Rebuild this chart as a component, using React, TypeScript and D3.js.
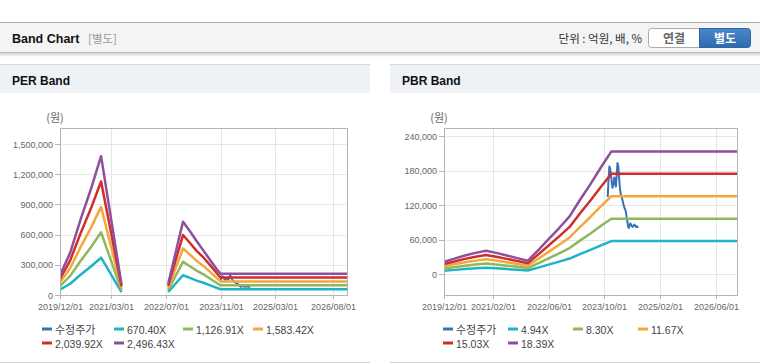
import * as d3 from "d3";
import React from "react";

// 데이터 (값은 그림에서 읽은 추정치)
const PER_DATES = [
  "2019-12-01", "2020-03-01", "2020-06-01", "2020-09-01", "2020-12-01", "2021-06-01",
  "2022-01-01",
  "2022-07-22", "2022-12-01", "2023-02-01", "2023-04-01", "2023-06-01", "2023-08-01",
  "2023-10-01", "2023-11-01", "2026-12-01",
];
const PER_670 = [52000, 112000, 201000, 284000, 371000, 28000, null, 30000, 196000, 170000, 143000, 122000, 96000, 70000, 57000, 57000];
const PER_1126 = [88000, 190000, 338000, 474000, 623000, 47000, null, 51000, 329000, 286000, 242000, 206000, 162000, 117000, 96000, 96000];
const PER_1583 = [124000, 268000, 475000, 667000, 876000, 66000, null, 71000, 462000, 401000, 340000, 289000, 228000, 165000, 135000, 135000];
const PER_2039 = [159000, 345000, 612000, 859000, 1128000, 86000, null, 92000, 596000, 517000, 439000, 373000, 294000, 212000, 173000, 173000];
const PER_2496 = [195000, 422000, 750000, 1051000, 1380000, 105000, null, 112000, 729000, 633000, 537000, 441000, 345000, 250000, 212000, 212000];

const PBR_DATES = [
  "2019-12-01", "2020-03-01", "2020-06-01", "2020-09-01", "2020-12-01", "2021-03-01",
  "2021-06-01", "2021-09-01", "2021-12-01", "2022-03-01", "2022-06-01", "2022-09-01",
  "2022-12-01", "2023-03-01", "2023-06-01", "2023-09-01", "2023-12-01", "2026-12-01",
];
const PBR_494 = [5700, 7200, 8600, 9900, 10900, 9900, 8600, 7400, 6200, 11100, 16300, 21500, 26900, 34600, 42000, 49900, 57300, 57300];
const PBR_830 = [9500, 12000, 14500, 16600, 18300, 16600, 14500, 12500, 10400, 18600, 27400, 36100, 45200, 58100, 70600, 83800, 96300, 96300];
const PBR_1167 = [13400, 16900, 20400, 23300, 25700, 23300, 20400, 17500, 14600, 26200, 38500, 50800, 63600, 81700, 99200, 117900, 135400, 135400];
const PBR_1503 = [17300, 21800, 26300, 30100, 33100, 30100, 26300, 22500, 18800, 33700, 49600, 65400, 81900, 105200, 127800, 151800, 174300, 174300];
const PBR_1839 = [21100, 26700, 32200, 36800, 40500, 36800, 32200, 27600, 23000, 41300, 60700, 80000, 100200, 128700, 156300, 185700, 213300, 213300];

const PRICE_DATES = [
  "2023-10-30", "2023-11-06", "2023-11-13", "2023-11-20", "2023-11-27", "2023-12-04",
  "2023-12-11", "2023-12-18", "2023-12-26", "2024-01-02", "2024-01-09", "2024-01-16",
  "2024-01-23", "2024-01-30", "2024-02-06", "2024-02-13", "2024-02-20", "2024-02-27",
  "2024-03-05", "2024-03-12", "2024-03-19", "2024-03-26", "2024-04-02", "2024-04-09",
  "2024-04-16", "2024-04-23", "2024-04-30", "2024-05-07", "2024-05-14", "2024-05-21",
  "2024-05-28", "2024-06-04", "2024-06-11", "2024-06-18", "2024-06-25", "2024-07-02",
  "2024-07-09", "2024-07-16", "2024-07-23",
];
const PRICE = [
  134000, 165000, 187000, 184000, 172000, 160000, 150000, 155000, 168000, 160000,
  152000, 172000, 193000, 188000, 168000, 150000, 140000, 134000, 130000, 124000,
  118000, 114000, 111000, 103000, 94000, 85000, 80000, 84000, 88000, 86000,
  83000, 82000, 84000, 86000, 84000, 82000, 83000, 82000, 83000,
];

const PER_LABELS = ["670.40X", "1,126.91X", "1,583.42X", "2,039.92X", "2,496.43X"];
const PBR_LABELS = ["4.94X", "8.30X", "11.67X", "15.03X", "18.39X"];
const PRICE_LABEL = "수정주가";

const PER_Y_TICKS = [0, 300000, 600000, 900000, 1200000, 1500000];
const PBR_Y_TICKS = [0, 60000, 120000, 180000, 240000];
const PER_X_TICKS = ["2019/12/01", "2021/03/01", "2022/07/01", "2023/11/01", "2025/03/01", "2026/08/01"];
const PBR_X_TICKS = ["2019/12/01", "2021/02/01", "2022/06/01", "2023/10/01", "2025/02/01", "2026/06/01"];

const COLORS = ["#3b70b6", "#1fb3c8", "#8fb85a", "#f4a73a", "#d02e2a", "#8e4f9e"];
const FONT = "'Liberation Sans', 'Noto Sans CJK KR', sans-serif";
const KFONT = "'Noto Sans CJK KR', 'Liberation Sans', sans-serif";

const parse = d3.timeParse("%Y-%m-%d");
const parseTick = d3.timeParse("%Y/%m/%d");

function BandChart(props) {
  const { x0, title, dates, bands, labels, yDomain, yTicks, xTicks, plot, legendX } = props;

  const x = d3
    .scaleTime()
    .domain([parse("2019-12-01"), parse("2026-12-01")])
    .range([plot.left, plot.right]);
  const y = d3.scaleLinear().domain(yDomain).range([plot.bottom, plot.top]);
  const fmt = d3.format(",");

  const line = d3
    .line()
    .defined((d) => d[1] != null)
    .x((d) => x(d[0]))
    .y((d) => y(d[1]));

  const priceLine = line(PRICE_DATES.map((d, i) => [parse(d), PRICE[i]]));
  const bandLines = bands.map((vals) => line(dates.map((d, i) => [parse(d), vals[i]])));

  const legendItems = [PRICE_LABEL, ...labels];
  const clipId = "clip-" + x0;

  return (
    <g>
      {/* 패널 헤더 */}
      <line x1={x0} x2={x0 + 370} y1={64.5} y2={64.5} stroke="#d6d6d6" />
      <rect x={x0} y={65} width={370} height={28} fill="#eef1f6" />
      <text x={x0 + 12} y={85} fontFamily={FONT} fontWeight="bold" fontSize={12} fill="#111">
        {title}
      </text>
      <line x1={x0} x2={x0 + 370} y1={362.5} y2={362.5} stroke="#d6d6d6" />

      {/* 그리드 */}
      {yTicks.map((t) => (
        <g key={"y" + t}>
          <line x1={plot.left} x2={plot.right} y1={Math.round(y(t)) + 0.5} y2={Math.round(y(t)) + 0.5} stroke="#e6e6e6" />
          <line x1={plot.left - 5} x2={plot.left} y1={Math.round(y(t)) + 0.5} y2={Math.round(y(t)) + 0.5} stroke="#b5b5b5" />
          <text x={plot.left - 7} y={y(t) + 3.5} textAnchor="end" fontFamily={FONT} fontSize={9} fill="#666">
            {fmt(t)}
          </text>
        </g>
      ))}
      {xTicks.map((t) => {
        const xx = Math.round(x(parseTick(t))) + 0.5;
        return (
          <g key={"x" + t}>
            <line x1={xx} x2={xx} y1={plot.top} y2={plot.bottom} stroke="#e6e6e6" />
            <line x1={xx} x2={xx} y1={plot.bottom} y2={plot.bottom + 4} stroke="#b5b5b5" />
            <text x={xx} y={310} textAnchor="middle" fontFamily={FONT} fontSize={9} fill="#666">
              {t}
            </text>
          </g>
        );
      })}
      <text x={plot.left - 5} y={122} textAnchor="middle" fontFamily={KFONT} fontSize={11} fill="#666">
        (원)
      </text>

      <clipPath id={clipId}>
        <rect x={plot.left} y={plot.top} width={plot.right - plot.left} height={plot.bottom - plot.top} />
      </clipPath>
      <g clipPath={`url(#${clipId})`}>
        <path d={priceLine} fill="none" stroke={COLORS[0]} strokeWidth={2} strokeLinejoin="round" />
        {bandLines.map((d, i) => (
          <path key={i} d={d} fill="none" stroke={COLORS[i + 1]} strokeWidth={2.5} strokeLinejoin="round" />
        ))}
      </g>
      <rect
        x={plot.left + 0.5}
        y={plot.top + 0.5}
        width={plot.right - plot.left}
        height={plot.bottom - plot.top}
        fill="none"
        stroke="#b5b5b5"
      />

      {/* 범례 */}
      {legendItems.map((lab, i) => {
        const lx = legendX[i % 4];
        const ly = i < 4 ? 329 : 343;
        return (
          <g key={lab}>
            <line x1={lx} x2={lx + 10} y1={ly} y2={ly} stroke={COLORS[i]} strokeWidth={3} />
            <text x={lx + 13} y={ly + 4.5} fontFamily={i === 0 ? KFONT : FONT} fontSize={i === 0 ? 11 : 10.5} fill="#444">
              {lab}
            </text>
          </g>
        );
      })}
    </g>
  );
}

export default function App() {
  return (
    <div style={{ position: "fixed", left: 0, top: 0 }}>
      <svg width={760} height={364} style={{ display: "block", background: "#fff" }}>
        <defs>
          <linearGradient id="shadow" x1="0" x2="0" y1="0" y2="1">
            <stop offset="0" stopColor="#000" stopOpacity={0.18} />
            <stop offset="1" stopColor="#000" stopOpacity={0} />
          </linearGradient>
          <linearGradient id="blueBtn" x1="0" x2="0" y1="0" y2="1">
            <stop offset="0" stopColor="#4a88c8" />
            <stop offset="1" stopColor="#2f6aae" />
          </linearGradient>
        </defs>

        {/* 상단 헤더 */}
        <line x1={0} x2={760} y1={22.5} y2={22.5} stroke="#b0b0b0" />
        <rect x={0} y={23} width={760} height={29} fill="#f4f4f4" />
        <line x1={0} x2={760} y1={52.5} y2={52.5} stroke="#bdbdbd" />
        <rect x={0} y={53} width={760} height={4} fill="url(#shadow)" />
        <text x={12} y={43} fontFamily={FONT} fontWeight="bold" fontSize={12.5} fill="#111">
          Band Chart
        </text>
        <text x={88} y={43} fontFamily={KFONT} fontSize={11.5} fill="#999">
          [별도]
        </text>
        <text x={642} y={42.5} textAnchor="end" fontFamily={KFONT} fontSize={11.5} fill="#333">
          단위 : 억원, 배, %
        </text>
        <path d="M651.5,28.5 H699.5 V47.5 H651.5 Q648.5,47.5 648.5,44.5 V31.5 Q648.5,28.5 651.5,28.5 Z" fill="#fff" stroke="#aaa" />
        <path d="M699.5,28.5 H747.5 Q750.5,28.5 750.5,31.5 V44.5 Q750.5,47.5 747.5,47.5 H699.5 Z" fill="url(#blueBtn)" stroke="#2d66a8" />
        <text x={674} y={42.5} textAnchor="middle" fontFamily={KFONT} fontWeight="bold" fontSize={12} fill="#666">
          연결
        </text>
        <text x={725} y={42.5} textAnchor="middle" fontFamily={KFONT} fontWeight="bold" fontSize={12} fill="#fff">
          별도
        </text>

        <BandChart
          x0={0}
          title="PER Band"
          dates={PER_DATES}
          bands={[PER_670, PER_1126, PER_1583, PER_2039, PER_2496]}
          labels={PER_LABELS}
          yDomain={[0, 1660000]}
          yTicks={PER_Y_TICKS}
          xTicks={PER_X_TICKS}
          plot={{ left: 60, right: 347, top: 128, bottom: 295 }}
          legendX={[42, 114, 183, 253]}
        />
        <BandChart
          x0={390}
          title="PBR Band"
          dates={PBR_DATES}
          bands={[PBR_494, PBR_830, PBR_1167, PBR_1503, PBR_1839]}
          labels={PBR_LABELS}
          yDomain={[-36500, 254000]}
          yTicks={PBR_Y_TICKS}
          xTicks={PBR_X_TICKS}
          plot={{ left: 444, right: 737, top: 128, bottom: 295 }}
          legendX={[443, 508, 573, 638]}
        />
      </svg>
    </div>
  );
}
